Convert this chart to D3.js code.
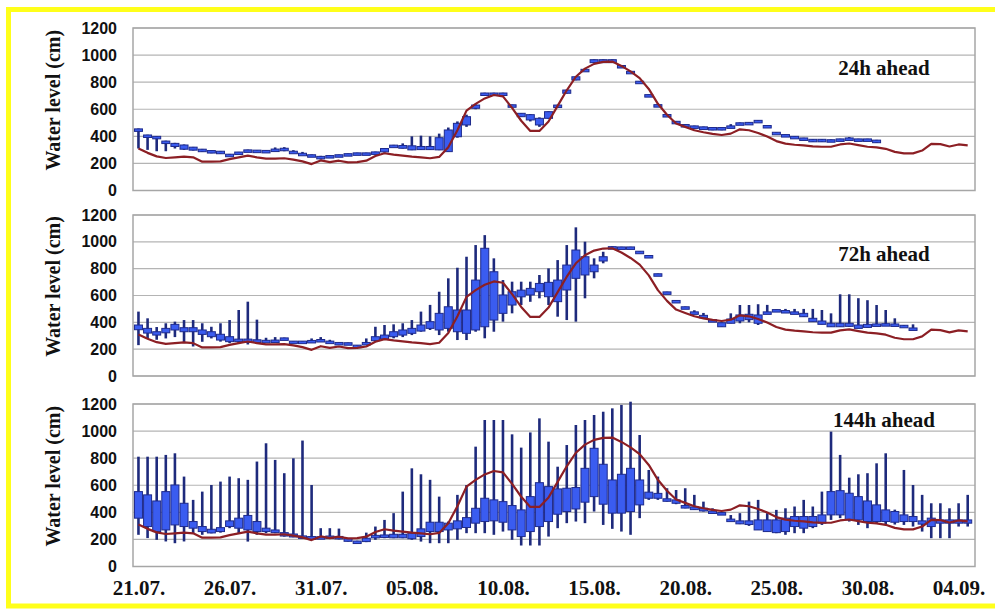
<!DOCTYPE html>
<html>
<head>
<meta charset="utf-8">
<script src="https://cdn.jsdelivr.net/npm/d3@7"></script>
<style>
  body { margin: 0; background: #fff; }
</style>
</head>
<body>
<script>
// x labels every 5 days, starting 21.07.
var dayLabels = ["21.07.", "26.07.", "31.07.", "05.08.", "10.08.", "15.08.", "20.08.", "25.08.", "30.08.", "04.09."];
var yTicks = [0, 200, 400, 600, 800, 1000, 1200];
var panelNames = ["24h ahead", "72h ahead", "144h ahead"];

// observed water level, every 12 h from 21.07.
var observed = [310,278,252,240,245,250,245,213,213,215,
  232,245,257,245,236,235,238,228,215,195,
  222,210,220,208,210,220,255,275,265,258,
  250,245,238,248,320,445,590,640,680,705,
  695,610,515,440,440,510,625,740,840,900,
  935,950,952,920,880,830,750,640,560,495,
  470,445,430,418,410,420,452,445,425,398,
  365,346,338,333,326,323,323,340,347,335,
  323,318,308,285,274,274,295,345,342,325,
  340,333];

// forecasts: [low, box bottom, box top, high], every 12 h from 21.07.
var box24 = [[310,440,455,458],[300,400,410,412],[290,390,400,402],[290,355,365,368],[310,325,348,352],
  [300,305,336,340],[295,298,320,322],[285,288,305,307],[275,277,295,297],[270,272,290,292],
  [255,256,268,270],[276,277,284,285],[290,291,300,302],[292,293,298,299],[290,291,296,297],
  [298,300,306,318],[290,298,312,320],[280,284,290,298],[262,265,275,285],[255,258,264,266],
  [230,235,252,256],[252,253,258,259],[258,259,264,265],[266,267,272,273],[270,272,278,279],
  [270,272,278,279],[268,270,285,287],[280,285,310,312],[325,328,335,337],[310,312,332,348],
  [298,300,330,400],[300,302,325,405],[300,302,325,400],[298,300,390,420],[285,287,447,465],
  [390,397,496,510],[470,484,545,560],[600,607,631,636],[712,714,720,722],[712,714,720,722],
  [712,714,720,722],[628,629,633,634],[543,545,570,572],[510,521,560,565],[470,484,533,540],
  [530,533,582,585],[617,619,631,633],[716,718,742,744],[814,816,840,842],[885,887,895,897],
  [942,944,966,968],[942,944,966,968],[942,944,966,968],[917,918,923,924],[874,875,880,881],
  [801,802,807,808],[702,703,708,709],[628,629,634,635],[555,556,561,562],[505,506,511,512],
  [481,482,487,488],[457,459,477,479],[448,450,470,472],[445,447,465,467],[445,447,465,467],
  [470,472,477,490],[488,490,500,502],[497,498,503,504],[512,513,518,519],[474,475,480,481],
  [424,425,430,431],[407,408,413,414],[394,395,400,401],[382,383,388,389],[358,360,378,380],
  [358,360,378,380],[358,360,375,377],[375,376,381,382],[382,383,388,395],[375,376,381,382],
  [375,376,381,382],[351,353,372,374]];

var box72 = [[230,345,380,480],[280,320,355,430],[270,305,330,365],[280,322,355,393],[290,343,385,405],
  [245,330,360,417],[220,330,360,417],[255,310,343,393],[280,293,330,367],[256,268,311,393],
  [245,256,293,417],[244,256,275,492],[235,250,275,554],[245,250,270,420],[258,260,266,285],
  [260,262,268,290],[276,278,284,286],[252,254,260,261],[252,254,260,261],[258,260,265,280],
  [262,265,272,290],[252,254,260,270],[242,244,250,251],[240,242,248,249],[222,224,230,231],
  [235,240,250,280],[256,263,293,367],[268,276,305,380],[281,293,330,385],[290,305,343,393],
  [305,318,355,417],[330,335,380,480],[343,355,405,530],[305,343,467,628],[330,355,516,728],
  [268,330,492,807],[268,318,492,889],[330,343,715,976],[281,367,952,1050],[330,417,777,877],
  [405,467,604,715],[467,529,628,703],[529,590,640,703],[553,604,653,703],[579,628,690,753],
  [529,591,698,802],[442,554,715,864],[417,641,827,976],[405,728,939,1108],[579,753,889,1001],
  [728,777,827,877],[840,857,889,926],[950,951,964,966],[950,951,962,963],[950,951,962,963],
  [920,922,930,931],[888,890,898,899],[752,754,762,763],[617,619,627,628],[553,555,563,564],
  [506,508,516,517],[470,472,478,490],[444,446,452,470],[412,414,420,421],[367,367,397,400],
  [393,393,425,467],[393,410,455,529],[400,420,460,529],[380,393,455,535],[470,472,478,530],
  [488,489,495,496],[480,482,488,500],[470,472,478,500],[440,442,467,500],[405,405,430,500],
  [385,385,410,492],[367,367,393,467],[367,367,393,609],[367,370,393,609],[355,355,380,580],
  [360,362,385,565],[375,378,388,529],[375,380,390,492],[375,378,388,430],[370,372,378,380],
  [350,352,358,385]];

var box144 = [[234,357,553,811],[210,295,529,811],[197,258,484,811],[185,270,553,824],[172,307,602,836],
  [185,295,467,664],[246,283,332,492],[234,258,295,553],[245,248,275,602],[250,258,287,627],
  [283,295,337,664],[246,283,357,652],[184,270,377,640],[234,258,332,775],[246,258,283,910],
  [246,250,270,787],[221,225,250,689],[216,218,240,799],[209,210,226,930],[197,200,221,602],
  [205,210,220,283],[204,208,225,283],[200,205,222,280],[184,186,205,210],[178,180,188,190],
  [180,184,209,250],[197,215,230,295],[209,215,233,344],[209,212,238,394],[209,212,238,553],
  [197,205,246,725],[184,221,278,681],[172,258,327,640],[172,258,327,516],[172,270,320,332],
  [197,278,337,529],[246,288,361,602],[246,320,430,885],[246,332,504,1082],[234,337,492,1082],
  [258,327,479,1082],[197,270,450,976],[155,221,418,878],[155,258,516,990],[155,295,619,1094],
  [221,332,590,922],[283,386,573,737],[320,406,578,897],[332,425,583,1045],[320,475,725,1082],
  [406,516,873,1119],[307,460,755,1143],[278,394,639,1168],[258,394,681,1193],[234,406,725,1217],
  [357,455,639,971],[492,504,549,713],[492,504,540,664],[479,485,500,578],[460,467,492,565],
  [430,432,450,578],[418,420,440,529],[406,410,430,479],[400,402,410,430],[390,392,398,400],
  [340,342,350,380],[313,315,337,394],[300,310,337,479],[270,270,344,492],[258,258,344,394],
  [246,250,344,418],[234,258,357,430],[246,295,369,443],[246,283,369,492],[283,295,369,443],
  [307,320,381,553],[344,381,553,996],[357,381,560,824],[332,344,541,656],[307,344,516,681],
  [283,332,484,689],[320,332,455,762],[307,332,418,836],[310,327,406,420],[307,332,381,713],
  [295,332,369,602],[258,313,337,529],[209,295,357,467],[209,320,344,467],[209,320,344,430],
  [295,320,344,467],[295,320,344,529]];

var w = 995, h = 611;
var svg = d3.select("body").append("svg")
  .attr("width", w)
  .attr("height", h)
  .style("display", "block");

// yellow frame (no right edge visible)
svg.append("path")
  .attr("d", "M995,9.5 H8.5 V606 H995")
  .attr("fill", "none")
  .attr("stroke", "#ffff1a")
  .attr("stroke-width", 5);

var x = d3.scaleLinear().domain([-0.3, 45.9]).range([133, 975]);

var panels = [
  {top: 28, bottom: 190.5, data: box24, labelY: 75},
  {top: 215, bottom: 376, data: box72, labelY: 261},
  {top: 404, bottom: 566.5, data: box144, labelY: 427}
];

var line = d3.line()
  .x(function(d, i) { return x(i / 2); });

panels.forEach(function(p, k) {
  var y = d3.scaleLinear().domain([0, 1200]).range([p.bottom, p.top]);
  var g = svg.append("g");

  // grid lines
  g.selectAll(".grid")
    .data(yTicks)
    .enter().append("line")
    .attr("x1", x.range()[0]).attr("x2", x.range()[1])
    .attr("y1", function(d) { return y(d); })
    .attr("y2", function(d) { return y(d); })
    .attr("stroke", "#b4b4b4")
    .attr("stroke-width", 1.2);

  // plot frame
  g.append("rect")
    .attr("x", x.range()[0]).attr("y", p.top)
    .attr("width", x.range()[1] - x.range()[0])
    .attr("height", p.bottom - p.top)
    .attr("fill", "none")
    .attr("stroke", "#a6a6a6")
    .attr("stroke-width", 1.5);

  // y axis labels
  var yAxis = d3.axisLeft(y).tickValues(yTicks).tickFormat(d3.format("d"))
    .tickSize(0).tickPadding(16);
  var ax = g.append("g")
    .attr("transform", "translate(" + x.range()[0] + ",0)")
    .call(yAxis);
  ax.select(".domain").remove();
  ax.selectAll("text")
    .attr("fill", "#111")
    .style("font-family", "'Liberation Sans', Arial, sans-serif")
    .style("font-weight", "bold")
    .style("font-size", "16px");

  // y title
  g.append("text")
    .attr("transform", "translate(60," + ((p.top + p.bottom) / 2 - 9) + ") rotate(-90)")
    .attr("text-anchor", "middle")
    .style("font-family", "'Liberation Serif', 'Times New Roman', serif")
    .style("font-weight", "bold")
    .style("font-size", "20px")
    .attr("fill", "#111")
    .text("Water level (cm)");

  // whiskers
  g.selectAll(".whisker")
    .data(p.data)
    .enter().append("line")
    .attr("x1", function(d, i) { return x(i / 2); })
    .attr("x2", function(d, i) { return x(i / 2); })
    .attr("y1", function(d) { return y(d[0]); })
    .attr("y2", function(d) { return y(d[3]); })
    .attr("stroke", "#1e2a7c")
    .attr("stroke-width", 2.6);

  // boxes
  g.selectAll(".box")
    .data(p.data)
    .enter().append("rect")
    .attr("x", function(d, i) { return x(i / 2) - 4; })
    .attr("width", 8)
    .attr("y", function(d) { return y(d[2]); })
    .attr("height", function(d) { return Math.max(2.5, y(d[1]) - y(d[2])); })
    .attr("fill", "#3a5cf0")
    .attr("stroke", "#1e2a8c")
    .attr("stroke-width", 1);

  // observed
  g.append("path")
    .datum(observed)
    .attr("d", line.y(function(d) { return y(d); }))
    .attr("fill", "none")
    .attr("stroke", "#8c1f24")
    .attr("stroke-width", 2.2)
    .attr("stroke-linejoin", "round");

  // panel name
  g.append("text")
    .attr("x", 884)
    .attr("y", p.labelY)
    .attr("text-anchor", "middle")
    .style("font-family", "'Liberation Serif', 'Times New Roman', serif")
    .style("font-weight", "bold")
    .style("font-size", "21px")
    .attr("fill", "#111")
    .text(panelNames[k]);

  // x labels only under the last panel
  if (k === panels.length - 1) {
    var xAxis = d3.axisBottom(x)
      .tickValues(d3.range(dayLabels.length).map(function(i) { return i * 5; }))
      .tickFormat(function(d, i) { return dayLabels[i]; })
      .tickSize(0).tickPadding(14);
    var bx = g.append("g")
      .attr("transform", "translate(0," + p.bottom + ")")
      .call(xAxis);
    bx.select(".domain").remove();
    bx.selectAll("text")
      .attr("fill", "#111")
      .style("font-family", "'Liberation Serif', 'Times New Roman', serif")
      .style("font-weight", "bold")
      .style("font-size", "21px");
  }
});
</script>
</body>
</html>
